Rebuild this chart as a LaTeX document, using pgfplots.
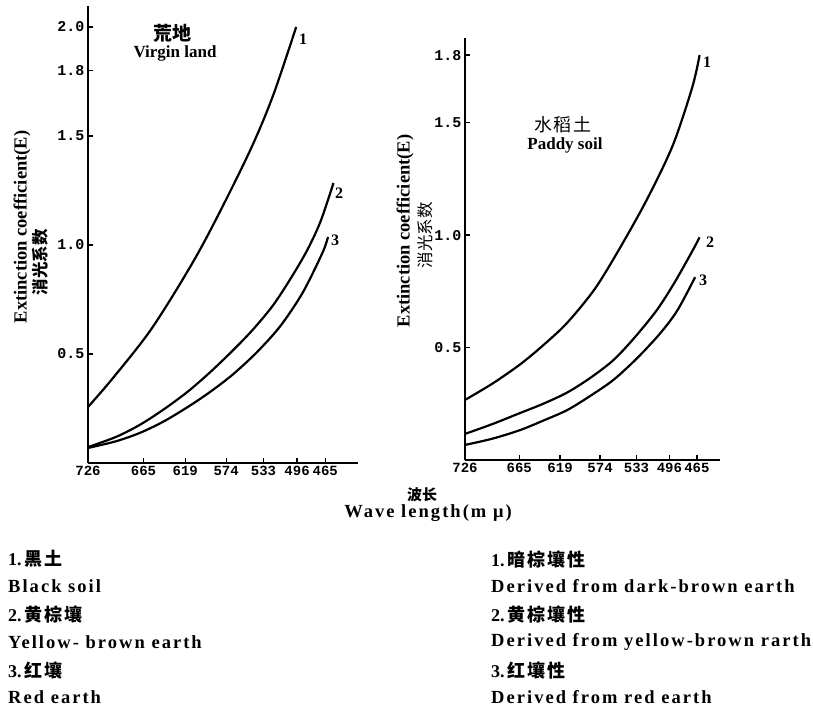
\documentclass[border=0pt]{standalone}
\usepackage{fontspec}
\usepackage{pgfplots}
\pgfplotsset{compat=1.18}
\setmainfont{Liberation Serif}
\newfontfamily\cjk{Noto Sans CJK SC}
\newfontfamily\cjkls[LetterSpace=10]{Noto Sans CJK SC}
\newfontfamily\legfont[LetterSpace=11]{Liberation Serif}
\newfontfamily\tickfont{Liberation Mono}

\newcommand{\fs}[1]{\fontsize{#1}{#1}\selectfont}

\pgfplotsset{
  soil/.style={
    scale only axis,
    x dir=reverse,
    ymin=0,
    axis x line*=bottom, axis y line*=left,
    axis line style={black, line width=2pt},
    tick align=inside, major tick length=5pt,
    tick style={black, line width=1.3pt},
    xtick={726,665,619,574,533,496,465},
    tick label style={font=\tickfont\bfseries\fs{15}},
    xticklabel style={font=\tickfont\bfseries\fs{14},
      /pgf/number format/set thousands separator={}},
    /pgf/number format/assume math mode=true,
    yticklabel style={/pgf/number format/.cd, fixed, fixed zerofill, precision=1},
    clip=false,
  },
  crv/.style={black, line width=2.2pt, smooth, no marks},
}

\begin{document}
\begin{tikzpicture}
\path[use as bounding box] (0,0) rectangle (813pt,-710pt);

% virgin land
\begin{axis}[soil,
  at={(88pt,-463pt)}, anchor=south west,
  width=270pt, height=457pt,
  xmin=429, xmax=726, ymax=2.096,
  ytick={0.5,1.0,1.5,1.8,2.0},
]
\addplot[crv] coordinates {(726,0.257) (698.5,0.39) (654.6,0.625) (603,0.977) (551,1.404) (523,1.679) (497,2.0)};
\addplot[crv] coordinates {(726,0.073) (695,0.12) (669,0.175) (643,0.245) (617,0.325) (592,0.415) (567,0.515)
  (545,0.61) (523,0.72) (504,0.84) (485,0.975) (470,1.11) (456,1.284)};
\addplot[crv] coordinates {(726,0.069) (695,0.10) (669,0.138) (643,0.19) (617,0.255) (592,0.325) (567,0.405)
  (541,0.505) (515,0.625) (490,0.78) (468,0.965) (462,1.037)};
\end{axis}

% paddy soil
\begin{axis}[soil,
  at={(465pt,-460pt)}, anchor=south west,
  width=255pt, height=422pt,
  xmin=439, xmax=726, ymax=1.876,
  ytick={0.5,1.0,1.5,1.8},
]
\addplot[crv] coordinates {(726,0.267) (695,0.34) (664,0.425) (638,0.51) (611,0.61) (580,0.76) (552,0.94)
  (521,1.16) (492,1.40) (470,1.66) (462,1.80)};
\addplot[crv] coordinates {(726,0.116) (695,0.16) (664,0.209) (638,0.25) (611,0.30) (585,0.365) (559,0.444)
  (535,0.545) (510,0.667) (490,0.79) (470,0.93) (462,0.99)};
\addplot[crv] coordinates {(726,0.067) (695,0.095) (664,0.133) (638,0.175) (611,0.222) (585,0.285) (559,0.356)
  (533,0.45) (507,0.56) (487,0.665) (467,0.813)};
\end{axis}

% curve numbers
\begin{scope}[every node/.style={font=\bfseries\fs{16}}]
\node at (303pt,-39pt) {1};
\node at (339pt,-193pt) {2};
\node at (335pt,-240pt) {3};
\node at (707pt,-62pt) {1};
\node at (710pt,-242pt) {2};
\node at (703pt,-280pt) {3};
\end{scope}

% panel titles
\node[font=\cjk\bfseries\fs{19}] at (172pt,-33pt) {荒地};
\node[font=\bfseries\fs{17}] at (175pt,-53pt) {Virgin land};
\node[font=\cjkls\fs{18}] at (563pt,-125pt) {水稻土};
\node[font=\bfseries\fs{17}] at (565pt,-145pt) {Paddy soil};

% y labels
\node[rotate=90, font=\bfseries\fs{18.5}] at (22pt,-227pt) {Extinction coefficient(E)};
\node[rotate=90, font=\cjk\bfseries\fs{16.5}] at (40pt,-262pt) {消光系数};
\node[rotate=90, font=\bfseries\fs{18.5}] at (405pt,-231pt) {Extinction coefficient(E)};
\node[rotate=90, font=\cjk\fs{16.5}] at (425pt,-235pt) {消光系数};

% x label
\node[font=\cjk\bfseries\fs{15}] at (422pt,-495pt) {波长};
\node[font=\legfont\bfseries\fs{18.5}] at (428pt,-513pt) {Wave length(m μ)};

% key
\begin{scope}[every node/.style={anchor=west, inner sep=0pt}]
\node[font=\cjkls\bfseries\fs{18}] at (8pt,-559pt) {\bfseries\rmfamily 1.\,\cjkls 黑土};
\node[font=\legfont\bfseries\fs{18.5}] at (8pt,-586pt) {Black soil};
\node[font=\cjkls\bfseries\fs{18}] at (8pt,-614pt) {\bfseries\rmfamily 2.\,\cjkls 黄棕壤};
\node[font=\legfont\bfseries\fs{18.5}] at (8pt,-642pt) {Yellow- brown earth};
\node[font=\cjkls\bfseries\fs{18}] at (8pt,-670pt) {\bfseries\rmfamily 3.\,\cjkls 红壤};
\node[font=\legfont\bfseries\fs{18.5}] at (8pt,-697pt) {Red earth};
\node[font=\cjkls\bfseries\fs{18}] at (491pt,-559pt) {\bfseries\rmfamily 1.\,\cjkls 暗棕壤性};
\node[font=\legfont\bfseries\fs{18.5}] at (491pt,-586pt) {Derived from dark-brown earth};
\node[font=\cjkls\bfseries\fs{18}] at (491pt,-614pt) {\bfseries\rmfamily 2.\,\cjkls 黄棕壤性};
\node[font=\legfont\bfseries\fs{18.5}] at (491pt,-642pt) {Derived from yellow-brown rarth};
\node[font=\cjkls\bfseries\fs{18}] at (491pt,-670pt) {\bfseries\rmfamily 3.\,\cjkls 红壤性};
\node[font=\legfont\bfseries\fs{18.5}] at (491pt,-697pt) {Derived from red earth};
\end{scope}
\end{tikzpicture}
\end{document}
